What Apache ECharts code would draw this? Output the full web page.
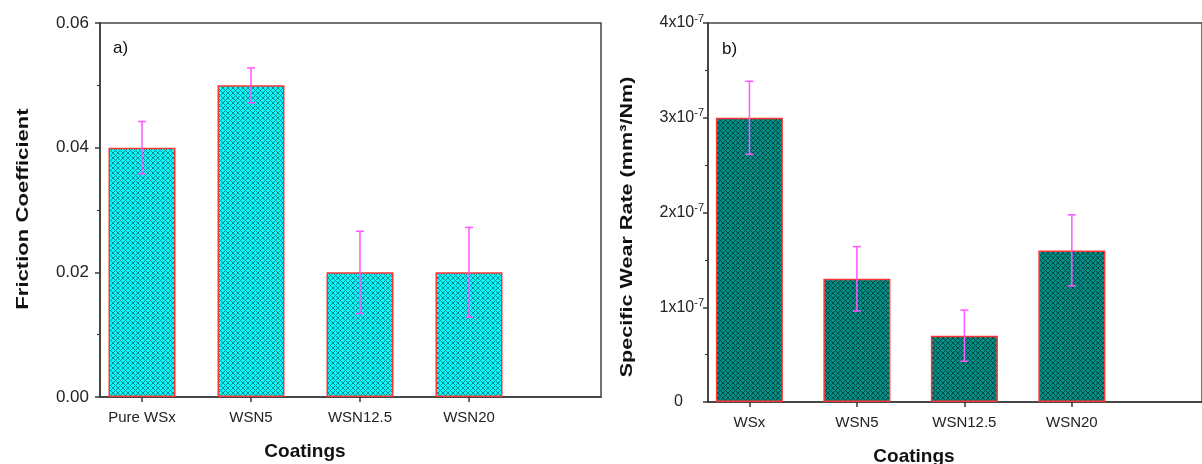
<!DOCTYPE html>
<html>
<head>
<meta charset="utf-8">
<script src="https://cdn.jsdelivr.net/npm/echarts@6/dist/echarts.min.js"></script>
<style>
  html, body { margin: 0; padding: 0; background: #fff; }
  #chart { width: 1202px; height: 464px; }
</style>
</head>
<body>
<div id="chart"></div>
<script>
// panel a) friction
var categoriesA = ['Pure WSx', 'WSN5', 'WSN12.5', 'WSN20'];
var frictionMean = [0.040, 0.050, 0.020, 0.020];
var frictionErr = [0.0042, 0.0028, 0.0066, 0.0072];
var frictionTicks = [0, 0.02, 0.04, 0.06];

// panel b) specific wear rate
var categoriesB = ['WSx', 'WSN5', 'WSN12.5', 'WSN20'];
var wearMean = [3.0e-7, 1.3e-7, 0.7e-7, 1.6e-7];
var wearErr = [0.385e-7, 0.34e-7, 0.27e-7, 0.375e-7];
var wearTicks = [0, 1e-7, 2e-7, 3e-7, 4e-7];

var FONT = 'Liberation Sans, Arial, sans-serif';

// cross hatch fill like the Origin pattern
function makePattern(bg, fg) {
  var n = 5;
  var c = document.createElement('canvas');
  c.width = n; c.height = n;
  var ctx = c.getContext('2d');
  ctx.fillStyle = bg;
  ctx.fillRect(0, 0, n, n);
  ctx.fillStyle = fg;
  for (var i = 0; i < n; i++) {
    ctx.fillRect(i, i, 1, 1);
    ctx.fillRect(i, (n - i) % n, 1, 1);
  }
  return { image: c, repeat: 'repeat' };
}

var positions = [1, 2, 3, 4];
var xMin = 1 - 42 / 109, xMax = 4 + 132 / 109;

function barData(mean) {
  return mean.map(function (v, i) { return [positions[i], v]; });
}
function errData(mean, err) {
  return mean.map(function (v, i) { return [positions[i], v - err[i], v + err[i]]; });
}

function renderErr(params, api) {
  var x = api.value(0);
  var top = api.coord([x, api.value(2)]);
  var bot = api.coord([x, api.value(1)]);
  var w = 4;
  var st = { stroke: '#ff55ff', lineWidth: 1.5 };
  return {
    type: 'group',
    children: [
      { type: 'line', shape: { x1: top[0], y1: top[1], x2: bot[0], y2: bot[1] }, style: st },
      { type: 'line', shape: { x1: top[0] - w, y1: top[1], x2: top[0] + w, y2: top[1] }, style: st },
      { type: 'line', shape: { x1: bot[0] - w, y1: bot[1], x2: bot[0] + w, y2: bot[1] }, style: st }
    ]
  };
}

function xAxisCfg(gridIndex, cats) {
  return {
    gridIndex: gridIndex,
    type: 'value',
    min: xMin,
    max: xMax,
    splitLine: { show: false },
    axisLine: { lineStyle: { color: '#3a3a3a', width: 1.5 } },
    axisTick: { customValues: positions, length: 5, lineStyle: { color: '#3a3a3a', width: 1.5 } },
    axisLabel: {
      customValues: positions,
      margin: 13,
      fontSize: 15,
      fontFamily: FONT,
      color: '#222',
      formatter: function (v) { return cats[Math.round(v) - 1]; }
    }
  };
}

// rotated axis titles, stretched along their length like the source figure
function yTitle(text, x, y, stretch) {
  return {
    type: 'text',
    x: x,
    y: y,
    rotation: Math.PI / 2,
    scaleX: stretch,
    style: { text: text, fontSize: 17, fontWeight: 'bold', fontFamily: FONT, fill: '#111', align: 'center', verticalAlign: 'middle' }
  };
}

var chart = echarts.init(document.getElementById('chart'));

var option = {
  backgroundColor: '#fff',
  animation: false,
  grid: [
    { left: 100, right: 601, top: 23, bottom: 67, show: true, borderColor: '#444', borderWidth: 1.5 },
    { left: 708, right: -8, top: 23, bottom: 62, show: true, borderColor: '#444', borderWidth: 1.5 }
  ],
  xAxis: [xAxisCfg(0, categoriesA), xAxisCfg(1, categoriesB)],
  yAxis: [
    {
      gridIndex: 0,
      type: 'value',
      min: frictionTicks[0],
      max: frictionTicks[frictionTicks.length - 1],
      interval: 0.02,
      splitLine: { show: false },
      axisLine: { show: true, lineStyle: { color: '#3a3a3a', width: 1.5 } },
      axisTick: { show: true, length: 5, lineStyle: { color: '#3a3a3a', width: 1.5 } },
      minorTick: { show: true, splitNumber: 2, length: 3, lineStyle: { color: '#3a3a3a', width: 1.2 } },
      axisLabel: {
        margin: 11,
        fontSize: 17,
        fontFamily: FONT,
        color: '#222',
        formatter: function (v) { return v.toFixed(2); }
      }
    },
    {
      gridIndex: 1,
      type: 'value',
      min: wearTicks[0],
      max: wearTicks[wearTicks.length - 1],
      interval: 1e-7,
      splitLine: { show: false },
      axisLine: { show: true, lineStyle: { color: '#3a3a3a', width: 1.5 } },
      axisTick: { show: true, length: 5, lineStyle: { color: '#3a3a3a', width: 1.5 } },
      minorTick: { show: true, splitNumber: 2, length: 3, lineStyle: { color: '#3a3a3a', width: 1.2 } },
      axisLabel: {
        margin: 4,
        fontSize: 16,
        fontFamily: FONT,
        color: '#222',
        formatter: function (v) {
          var n = Math.round(v / 1e-7);
          if (n === 0) return '{z|0}';
          return '{m|' + n + 'x10}{s|-7}';
        },
        rich: {
          m: { fontSize: 16, fontFamily: FONT, color: '#222' },
          s: { fontSize: 11, fontFamily: FONT, color: '#222', padding: [0, 0, 9, 0] },
          z: { fontSize: 16, fontFamily: FONT, color: '#222', padding: [0, 21, 0, 0] }
        }
      }
    }
  ],
  graphic: [
    yTitle('Friction Coefficient', 23, 209, 1.3),
    yTitle('Specific Wear Rate (mm³/Nm)', 627, 227, 1.27),
    { type: 'text', left: 113, top: 40, style: { text: 'a)', fontSize: 17, fontFamily: FONT, fill: '#111' } },
    { type: 'text', left: 722, top: 41, style: { text: 'b)', fontSize: 17, fontFamily: FONT, fill: '#111' } },
    { type: 'text', x: 305, y: 452, style: { text: 'Coatings', fontSize: 19, fontWeight: 'bold', fontFamily: FONT, fill: '#111', align: 'center', verticalAlign: 'middle' } },
    { type: 'text', x: 914, y: 457, style: { text: 'Coatings', fontSize: 19, fontWeight: 'bold', fontFamily: FONT, fill: '#111', align: 'center', verticalAlign: 'middle' } }
  ],
  series: [
    {
      type: 'bar',
      xAxisIndex: 0,
      yAxisIndex: 0,
      barWidth: 67,
      data: barData(frictionMean),
      itemStyle: { color: makePattern('#00ffff', '#0b8c8c'), borderColor: '#ff3333', borderWidth: 1.5 }
    },
    {
      type: 'custom',
      xAxisIndex: 0,
      yAxisIndex: 0,
      z: 5,
      renderItem: renderErr,
      data: errData(frictionMean, frictionErr)
    },
    {
      type: 'bar',
      xAxisIndex: 1,
      yAxisIndex: 1,
      barWidth: 67,
      data: barData(wearMean),
      itemStyle: { color: makePattern('#009088', '#004a46'), borderColor: '#ff3333', borderWidth: 1.5 }
    },
    {
      type: 'custom',
      xAxisIndex: 1,
      yAxisIndex: 1,
      z: 5,
      renderItem: renderErr,
      data: errData(wearMean, wearErr)
    }
  ]
};

chart.setOption(option);
</script>
</body>
</html>
